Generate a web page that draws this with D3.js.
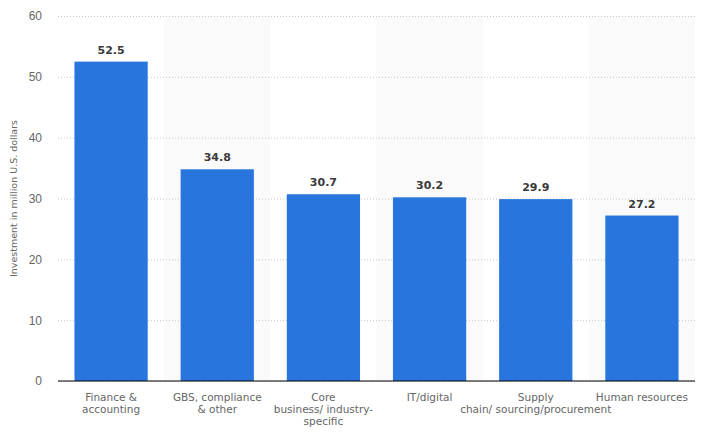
<!DOCTYPE html>
<html><head><meta charset="utf-8">
<script src="https://cdn.jsdelivr.net/npm/d3@7"></script>
<style>body{margin:0;background:#fff}svg{display:block;font-family:"DejaVu Sans",sans-serif}</style>
</head><body><svg id="c" width="705" height="432"></svg>
<script>
const categories = [["Finance &","accounting"],["GBS, compliance","& other"],["Core","business/ industry-","specific"],["IT/digital"],["Supply","chain/ sourcing/procurement"],["Human resources"]];
const values = [52.5, 34.8, 30.7, 30.2, 29.9, 27.2];
const yTicks = [0,10,20,30,40,50,60];
const yTitle = "Investment in million U.S. dollars";

const svg = d3.select("#c");
const m = {l:58, r:10, t:16, b:51};
const W = 705, H = 432;
const x = d3.scaleBand().domain(d3.range(values.length)).range([m.l, W-m.r]).paddingInner(0.31).paddingOuter(0.155);
const xb = d3.scaleBand().domain(d3.range(values.length)).range([m.l, W-m.r]);
const y = d3.scaleLinear().domain([0,60]).range([H-m.b, m.t]);

svg.selectAll("rect.band").data(d3.range(values.length).filter(i=>i%2==1)).join("rect")
  .attr("x", i=>xb(i)).attr("width", xb.bandwidth()).attr("y", m.t).attr("height", y(0)-m.t).attr("fill","#fafafa");

const g = svg.append("g").attr("transform",`translate(${m.l},0)`)
  .call(d3.axisLeft(y).tickValues(yTicks).tickSize(-(W-m.r-m.l)).tickPadding(16));
g.select(".domain").remove();
g.selectAll(".tick line").attr("stroke","#c8c8c8").attr("stroke-dasharray","1,2");
g.selectAll(".tick text").attr("fill","#666").attr("font-size","12px");

svg.selectAll("rect.bar").data(values).join("rect")
  .attr("x",(d,i)=>x(i)).attr("width",x.bandwidth()).attr("y",d=>y(d)).attr("height",d=>y(0)-y(d)).attr("fill","#2876dd");

svg.selectAll("text.val").data(values).join("text")
  .attr("x",(d,i)=>x(i)+x.bandwidth()/2).attr("y",d=>y(d)-8).attr("text-anchor","middle")
  .attr("font-size","11px").attr("font-weight","bold").attr("fill","#3a3a3a").text(d=>d.toFixed(1));

svg.append("line").attr("x1",m.l).attr("x2",W-m.r).attr("y1",y(0)).attr("y2",y(0)).attr("stroke","#000").attr("stroke-width",1.2);

const xl = svg.selectAll("text.cat").data(categories).join("text")
  .attr("text-anchor","middle").attr("font-size","10.5px").attr("fill","#666");
xl.each(function(lines,i){
  const t = d3.select(this);
  lines.forEach((s,k)=>t.append("tspan").attr("x",x(i)+x.bandwidth()/2).attr("y",y(0)+20+k*12).text(s));
});

svg.append("text").attr("transform",`translate(17,${(y(0)+y(60))/2}) rotate(-90)`).attr("text-anchor","middle")
  .attr("font-size","9.5px").attr("fill","#666").text(yTitle);
</script></body></html>
